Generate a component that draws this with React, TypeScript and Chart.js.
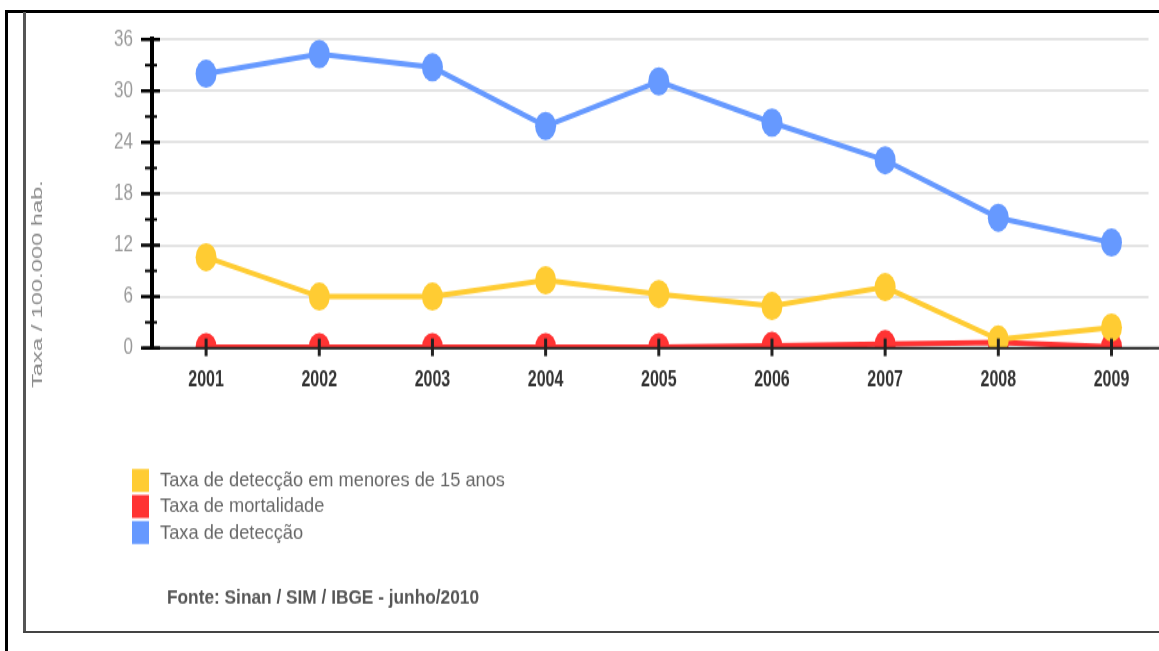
import React, { useEffect, useRef } from "react";
import { Chart, registerables } from "chart.js";

Chart.register(...registerables);

// ---- data ----
const years = [2001, 2002, 2003, 2004, 2005, 2006, 2007, 2008, 2009];
const taxaMenores15 = [10.6, 6.0, 6.0, 7.9, 6.3, 4.9, 7.1, 1.0, 2.4];
const taxaMortalidade = [0.1, 0.1, 0.1, 0.1, 0.1, 0.25, 0.45, 0.65, 0.15];
const taxaDeteccao = [32.0, 34.3, 32.75, 25.9, 31.1, 26.3, 21.9, 15.2, 12.3];
const yTickValues = [0, 6, 12, 18, 24, 30, 36];
const yMinorTickValues = [3, 9, 15, 21, 27, 33];
const seriesLabels = [
  "Taxa de detecção em menores de 15 anos",
  "Taxa de mortalidade",
  "Taxa de detecção",
];
const seriesColors = ["#ffcc33", "#ff3333", "#6699ff"];
const yTitle = "Taxa / 100.000 hab.";
const sourceNote = "Fonte: Sinan / SIM / IBGE - junho/2010";

// ---- layout ----
const W = 1159;
const H = 651;
const LH = 482; // logical canvas height, stretched vertically to H
const S = H / LH;

function fittedText(
  ctx: CanvasRenderingContext2D,
  text: string,
  x: number,
  y: number,
  factor: number
) {
  ctx.save();
  ctx.translate(x, y);
  ctx.scale(factor, 1);
  ctx.fillText(text, 0, 0);
  ctx.restore();
}

const decorPlugin = {
  id: "decor",
  afterDatasetsDraw(chart: any) {
    const ctx: CanvasRenderingContext2D = chart.ctx;
    const xs = chart.scales.x;
    const ys = chart.scales.y;
    const y0 = ys.getPixelForValue(0);
    const left = chart.chartArea.left;
    ctx.save();
    // x axis line
    ctx.strokeStyle = "#222";
    ctx.lineWidth = 2;
    ctx.beginPath();
    ctx.moveTo(left - 9, y0);
    ctx.lineTo(W, y0);
    ctx.stroke();
    // x ticks
    ctx.lineWidth = 3;
    years.forEach((yr) => {
      const px = xs.getPixelForValue(yr);
      ctx.beginPath();
      ctx.moveTo(px, y0 - 7);
      ctx.lineTo(px, y0 + 6);
      ctx.stroke();
    });
    // y ticks
    ctx.strokeStyle = "#000";
    ctx.lineWidth = 2.5;
    yTickValues.forEach((v) => {
      const py = ys.getPixelForValue(v);
      ctx.beginPath();
      ctx.moveTo(left - 11, py);
      ctx.lineTo(left + 8, py);
      ctx.stroke();
    });
    ctx.lineWidth = 2;
    yMinorTickValues.forEach((v) => {
      const py = ys.getPixelForValue(v);
      ctx.beginPath();
      ctx.moveTo(left - 7, py);
      ctx.lineTo(left + 5, py);
      ctx.stroke();
    });
    ctx.restore();
  },
  afterDraw(chart: any) {
    const ctx: CanvasRenderingContext2D = chart.ctx;
    ctx.save();
    // y axis title
    ctx.fillStyle = "#8a8a8a";
    ctx.font = "15px 'Liberation Sans', Arial, sans-serif";
    ctx.textBaseline = "middle";
    ctx.textAlign = "center";
    const tw = ctx.measureText(yTitle).width;
    ctx.save();
    ctx.translate(38, 284 / S);
    ctx.rotate(-Math.PI / 2);
    fittedText(ctx, yTitle, 0, 0, 154 / tw);
    ctx.restore();

    // legend
    ctx.textAlign = "left";
    ctx.font = "15px 'Liberation Sans', Arial, sans-serif";
    const f = 345 / ctx.measureText(seriesLabels[0]).width;
    chart.data.datasets.forEach((ds: any, i: number) => {
      const top = 469 / S + i * (26 / S);
      ctx.fillStyle = ds.borderColor;
      ctx.fillRect(132, top, 17, 17);
      ctx.fillStyle = "#666";
      fittedText(ctx, ds.label, 160, top + 8.8, f);
    });

    // source note
    ctx.font = "bold 14px 'Liberation Sans', Arial, sans-serif";
    ctx.fillStyle = "#555";
    const f2 = 312 / ctx.measureText(sourceNote).width;
    fittedText(ctx, sourceNote, 167, 599 / S, f2);
    ctx.restore();
  },
};

export default function App() {
  const ref = useRef<HTMLCanvasElement | null>(null);

  useEffect(() => {
    if (!ref.current) return;
    const mk = (label: string, data: number[], color: string) => ({
      label,
      data: years.map((yr, i) => ({ x: yr, y: data[i] })),
      borderColor: color,
      backgroundColor: color,
      pointBackgroundColor: color,
      pointBorderColor: color,
      pointBorderWidth: 0,
      pointRadius: 10.5,
      pointHoverRadius: 10.5,
      borderWidth: 4,
      tension: 0,
      clip: { left: false, top: false, right: false, bottom: 0 },
    });
    const chart = new Chart(ref.current, {
      type: "line",
      data: {
        datasets: [
          mk(seriesLabels[0], taxaMenores15, seriesColors[0]),
          mk(seriesLabels[1], taxaMortalidade, seriesColors[1]),
          mk(seriesLabels[2], taxaDeteccao, seriesColors[2]),
        ] as any,
      },
      options: {
        animation: false,
        responsive: false,
        devicePixelRatio: 1,
        events: [],
        layout: {
          padding: { left: 0, right: 4, top: 37 / S, bottom: LH - 348 / S - 40 },
        },
        plugins: {
          legend: { display: false },
          tooltip: { enabled: false },
          title: { display: false },
        },
        scales: {
          x: {
            type: "linear",
            min: 2000.522,
            max: 2009.327,
            afterBuildTicks: (s: any) => {
              s.ticks = years.map((v) => ({ value: v }));
            },
            afterFit: (s: any) => {
              s.height = 40;
              s.paddingLeft = 0;
              s.paddingRight = 0;
            },
            grid: { display: false, drawTicks: false },
            border: { display: false },
            ticks: {
              padding: 14,
              color: "#333",
              font: { family: "'Liberation Sans', Arial, sans-serif", size: 16, weight: "bold" },
              callback: (v: any) => String(v),
            },
          },
          y: {
            type: "linear",
            min: 0,
            max: 36,
            afterBuildTicks: (s: any) => {
              s.ticks = yTickValues.map((v) => ({ value: v }));
            },
            afterFit: (s: any) => {
              s.width = 152;
            },
            grid: { color: "#e4e4e4", lineWidth: 2, drawTicks: false },
            border: { display: true, color: "#000", width: 4 },
            ticks: {
              padding: 19,
              color: "#999",
              font: { family: "'Liberation Sans', Arial, sans-serif", size: 17 },
            },
          },
        },
      } as any,
      plugins: [decorPlugin],
    });
    return () => chart.destroy();
  }, []);

  return (
    <div style={{ position: "fixed", left: 0, top: 0, width: W, height: H, background: "#fff", overflow: "hidden" }}>
      <div
        style={{
          position: "absolute",
          left: 0,
          top: 0,
          width: W,
          height: LH,
          transform: `scale(1, ${S})`,
          transformOrigin: "0 0",
        }}
      >
        <canvas ref={ref} width={W} height={LH} style={{ display: "block", width: W, height: LH }} />
      </div>
      {/* frame */}
      <div style={{ position: "absolute", left: 5, top: 10, width: 3, height: H - 10, background: "#000" }} />
      <div style={{ position: "absolute", left: 5, top: 10, width: W - 5, height: 2.5, background: "#000" }} />
      <div style={{ position: "absolute", left: 23, top: 12, width: 2.5, height: 621, background: "#555" }} />
      <div style={{ position: "absolute", left: 23, top: 630.5, width: W - 23, height: 2.5, background: "#444" }} />
    </div>
  );
}
